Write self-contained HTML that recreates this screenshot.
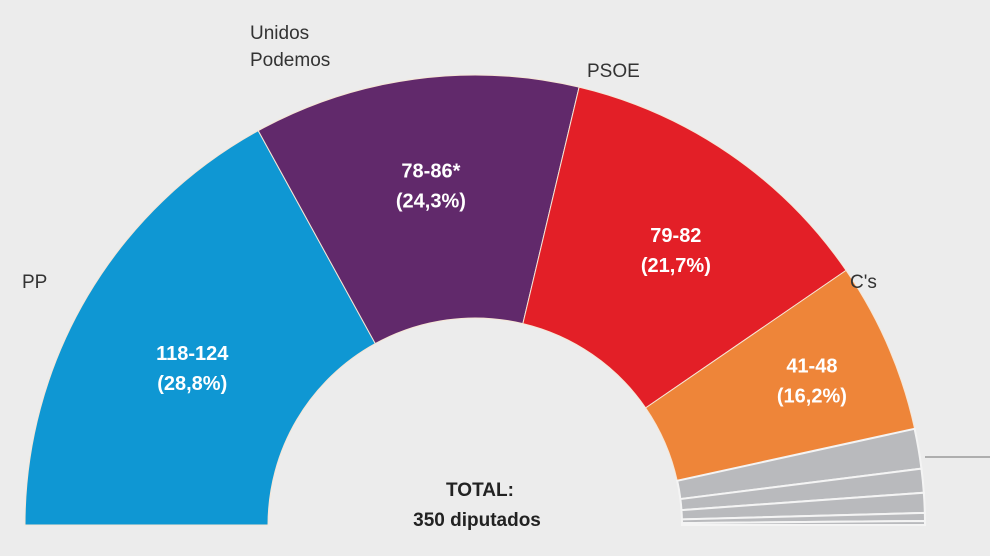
<!DOCTYPE html>
<html><head><meta charset="utf-8"><style>
body{margin:0;background:#ececec;}
svg{display:block;font-family:"Liberation Sans",sans-serif;}
</style></head><body>
<svg id="chart" width="990" height="556" viewBox="0 0 990 556">
<rect width="990" height="556" fill="#ececec"/>
<line x1="925" y1="457" x2="990" y2="457" stroke="#9a9a9a" stroke-width="1.5"/>
<g id="slices"></g>
<g id="labels"></g>
<text x="480" y="496" text-anchor="middle" font-size="19" font-weight="bold" fill="#222">TOTAL:</text>
<text x="477" y="526" text-anchor="middle" font-size="19" font-weight="bold" fill="#222">350 diputados</text>
</svg>
<script>
const parties = ["PP","Unidos Podemos","PSOE","C's","Otros1","Otros2","Otros3","Otros4","Otros5"];
const seats = [119, 82, 82, 43, 10, 6, 5, 2, 1];
const colors = ["#0f97d3","#61296b","#e31f27","#ee8539","#b9babd","#b9babd","#b9babd","#b9babd","#b9babd"];
const seatText = ["118-124","78-86*","79-82","41-48"];
const pctText = ["(28,8%)","(24,3%)","(21,7%)","(16,2%)"];

const labelDx=[0,0,15,40], labelDy=[8,-16,-6,-18];
const cx=475, cy=525, R=450, r=207;
const total = seats.reduce((a,b)=>a+b,0);
const NS="http://www.w3.org/2000/svg";
function ang(s){return Math.PI - Math.PI*s/total;}
function pt(a,rad){return [cx+rad*Math.cos(a), cy-rad*Math.sin(a)];}
const g=document.getElementById('slices'), lg=document.getElementById('labels');
let acc=0;
seats.forEach((v,i)=>{
  const a0=ang(acc), a1=ang(acc+v);
  const p0=pt(a0,R),p1=pt(a1,R),q1=pt(a1,r),q0=pt(a0,r);
  const large=(a0-a1)>Math.PI?1:0;
  const p=document.createElementNS(NS,'path');
  p.setAttribute('d',`M${p0[0]},${p0[1]} A${R},${R} 0 ${large} 1 ${p1[0]},${p1[1]} L${q1[0]},${q1[1]} A${r},${r} 0 ${large} 0 ${q0[0]},${q0[1]} Z`);
  p.setAttribute('fill',colors[i]);
  p.setAttribute('stroke',i>=4?'#f4f4f4':'#f6e6d6');
  p.setAttribute('stroke-width',i>=4?'2':'1');
  
  
  g.appendChild(p);
  if(i<4){
    const am=(a0+a1)/2; const c=pt(am,(R+r)/2+(i==3?-5:0));
    const x=c[0]+labelDx[i], y=c[1]+labelDy[i];
    const t1=document.createElementNS(NS,'text');
    t1.setAttribute('x',x);t1.setAttribute('y',y-6);
    t1.setAttribute('text-anchor','middle');t1.setAttribute('font-size','20');t1.setAttribute('font-weight','bold');t1.setAttribute('fill','#fff');
    t1.textContent=seatText[i];
    
    
    lg.appendChild(t1);
    const t2=document.createElementNS(NS,'text');
    t2.setAttribute('x',x);t2.setAttribute('y',y+24);
    t2.setAttribute('text-anchor','middle');t2.setAttribute('font-size','20');t2.setAttribute('font-weight','bold');t2.setAttribute('fill','#fff');
    t2.textContent=pctText[i];
    
    
    lg.appendChild(t2);
  }
  acc+=v;
});
</script>
<div style="position:absolute;left:0;top:0;width:990px;height:556px;pointer-events:none;font-family:'Liberation Sans',sans-serif;font-size:19px;color:#333;">
<div style="position:absolute;left:22px;top:272px;">PP</div>
<div style="position:absolute;left:250px;top:20px;line-height:27px;">Unidos<br>Podemos</div>
<div style="position:absolute;left:587px;top:61px;">PSOE</div>
<div style="position:absolute;left:850px;top:272px;">C's</div>
</div>
</body></html>
